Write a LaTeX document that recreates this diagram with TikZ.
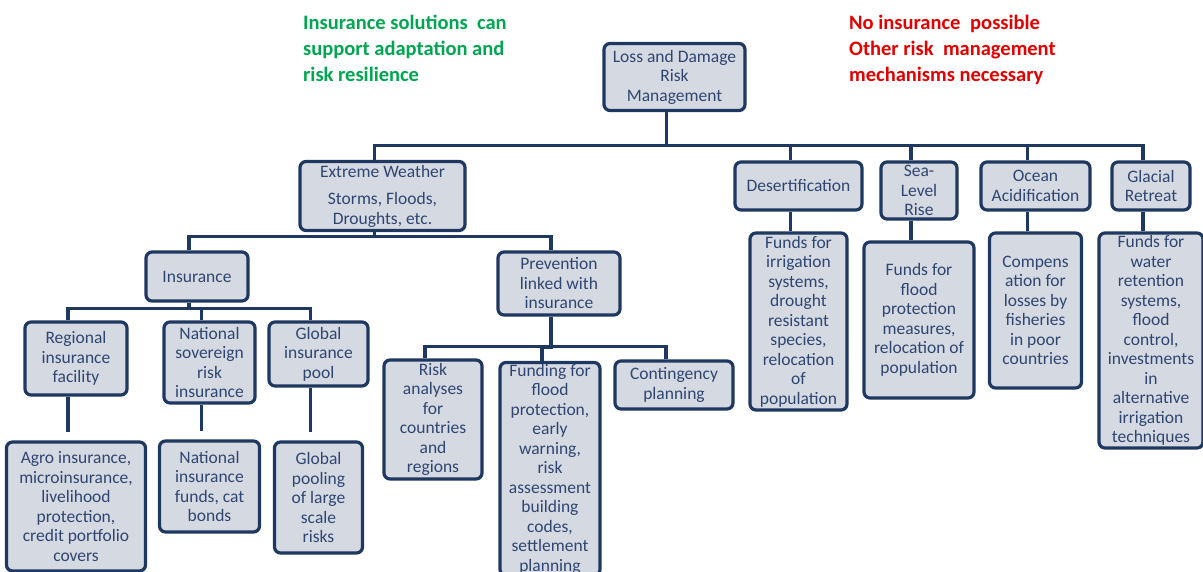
\documentclass[tikz,border=0pt]{standalone}
\usepackage{fontspec}
\setmainfont{Carlito}
\definecolor{boxfill}{RGB}{213,217,226}
\definecolor{boxline}{RGB}{31,56,96}
\definecolor{boxtext}{RGB}{47,70,112}
\definecolor{hgreen}{RGB}{0,166,80}
\definecolor{hred}{RGB}{228,0,0}
\begin{document}
\begin{tikzpicture}[x=1pt,y=-1pt,
  box/.style={draw=boxline, fill=boxfill, line width=3.2pt, rounded corners=6pt, align=center, text=boxtext, inner sep=1pt, font=\fontsize{17.5}{19.5}\selectfont},
  conn/.style={draw=boxline, line width=3.2pt},
  head/.style={font=\bfseries\fontsize{20.5}{26}\selectfont, align=left, anchor=north west, inner sep=0pt}]
\useasboundingbox (0,0) rectangle (1203,572);
\clip (0,0) rectangle (1203,572);

% header texts
\node[head, text=hgreen] (gtxt) at (303,15) {Insurance solutions\ \ can\\support adaptation and\\risk resilience};
\node[head, text=hred] (rtxt) at (849,15) {No insurance\hspace{0.25em} possible\\Other risk\ \ management\\mechanisms necessary};

% level 0
\node[box, minimum width=141pt, minimum height=67pt] (root) at (674.5,77) {Loss and Damage\\Risk\\Management};

% level 1
\node[box, minimum width=165pt, minimum height=69pt] (ew) at (382.5,196) {Extreme Weather\\[8pt]Storms, Floods,\\Droughts, etc.};
\node[box, minimum width=127pt, minimum height=48pt] (des) at (798.5,186) {Desertification};
\node[box, minimum width=76pt, minimum height=57pt] (sea) at (919,190.5) {Sea-\\Level\\Rise};
\node[box, minimum width=109pt, minimum height=48pt] (oce) at (1035.5,186) {Ocean\\Acidification};
\node[box, minimum width=78pt, minimum height=48pt] (gla) at (1151,186) {Glacial\\Retreat};

% level 2 (extreme weather)
\node[box, minimum width=102pt, minimum height=49pt] (ins) at (197,276.5) {Insurance};
\node[box, minimum width=122pt, minimum height=63pt] (prev) at (559,283.5) {Prevention\\linked with\\insurance};

% level 3 (insurance)
\node[box, minimum width=102pt, minimum height=73pt] (reg) at (76,358.5) {Regional\\insurance\\facility};
\node[box, minimum width=91pt, minimum height=81pt] (nat) at (209.5,362.5) {National\\sovereign\\risk\\insurance};
\node[box, minimum width=99pt, minimum height=64pt] (glo) at (318.5,354) {Global\\insurance\\pool};

% level 4 (insurance)
\node[box, minimum width=139pt, minimum height=129pt] (agro) at (76,506.5) {Agro insurance,\\microinsurance,\\livelihood\\protection,\\credit portfolio\\covers};
\node[box, minimum width=100pt, minimum height=91pt] (natf) at (209.5,486.5) {National\\insurance\\funds, cat\\bonds};
\node[box, minimum width=88pt, minimum height=111pt] (glop) at (318.5,497.5) {Global\\pooling\\of large\\scale\\risks};

% level 3 (prevention)
\node[box, minimum width=98pt, minimum height=119pt] (risk) at (433,419.5) {Risk\\analyses\\for\\countries\\and\\regions};
\node[box, minimum width=100pt, minimum height=213pt] (fund) at (550,469) {Funding for\\flood\\protection,\\early\\warning,\\risk\\assessment\\building\\codes,\\settlement\\planning};
\node[box, minimum width=118pt, minimum height=48pt] (cont) at (674,385) {Contingency\\planning};

% level 2 (right side)
\node[box, minimum width=97pt, minimum height=177pt] (firr) at (798.5,321.5) {Funds for\\irrigation\\systems,\\drought\\resistant\\species,\\relocation\\of\\population};
\node[box, minimum width=110pt, minimum height=156pt] (fflo) at (919,320) {Funds for\\flood\\protection\\measures,\\relocation of\\population};
\node[box, minimum width=92pt, minimum height=155pt] (comp) at (1035.5,310.5) {Compens\\ation for\\losses by\\fisheries\\in poor\\countries};
\node[box, minimum width=104pt, minimum height=215pt] (fwat) at (1151,340.5) {Funds for\\water\\retention\\systems,\\flood\\control,\\investments\\in\\alternative\\irrigation\\techniques};

% connectors: root -> level 1 (bar at y=147)
\foreach \c/\s in {ew/14, des/15, sea/15, oce/15, gla/15}{
  \draw[conn] ([xshift=-8pt]root.south) |- ([xshift=-8pt,yshift=\s pt]\c.north) -- ([xshift=-8pt]\c.north);
}
% ew -> insurance, prevention (bar at y=238)
\foreach \c in {ins, prev}{
  \draw[conn] ([xshift=-8pt]ew.south) |- ([xshift=-8pt,yshift=14pt]\c.north) -- ([xshift=-8pt]\c.north);
}
% insurance -> children (bar at y=310)
\foreach \c in {reg, nat, glo}{
  \draw[conn] ([xshift=-8pt]ins.south) |- ([xshift=-8pt,yshift=12pt]\c.north) -- ([xshift=-8pt]\c.north);
}
% prevention -> children (bar at y=348)
\draw[conn] ([xshift=-8pt]prev.south) |- ([xshift=-8pt,yshift=12pt]risk.north) -- ([xshift=-8pt]risk.north);
\draw[conn] ([xshift=-8pt]prev.south) |- ([xshift=-8pt,yshift=14pt]fund.north) -- ([xshift=-8pt]fund.north);
\draw[conn] ([xshift=-8pt]prev.south) |- ([xshift=-8pt,yshift=13pt]cont.north) -- ([xshift=-8pt]cont.north);
% stems with a small gap
\draw[conn] ([xshift=-8pt]reg.south) -- ([xshift=-8pt,yshift=8pt]agro.north);
\draw[conn] ([xshift=-8pt]nat.south) -- ([xshift=-8pt,yshift=8pt]natf.north);
\draw[conn] ([xshift=-8pt]glo.south) -- ([xshift=-8pt,yshift=8pt]glop.north);
% right side stems
\draw[conn] ([xshift=-8pt]des.south) -- ([xshift=-8pt]firr.north);
\draw[conn] ([xshift=-8pt]sea.south) -- ([xshift=-8pt]fflo.north);
\draw[conn] ([xshift=-8pt]oce.south) -- ([xshift=-8pt]comp.north);
\draw[conn] ([xshift=-8pt]gla.south) -- ([xshift=-8pt]fwat.north);
\end{tikzpicture}
\end{document}
